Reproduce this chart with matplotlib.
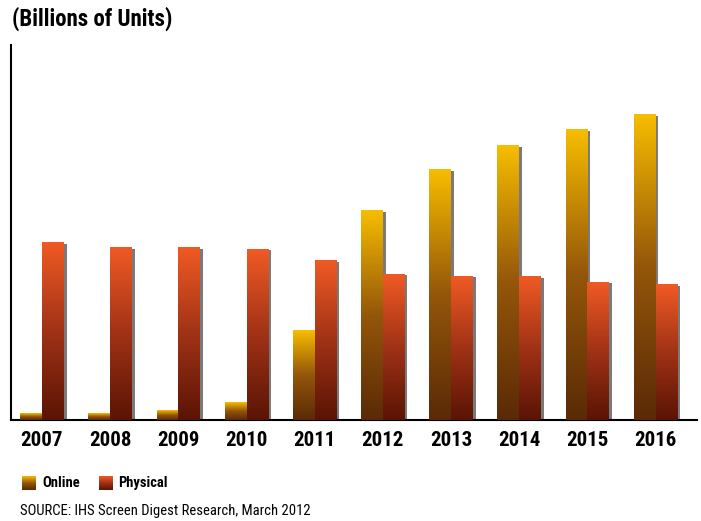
import numpy as np
import matplotlib
matplotlib.use("Agg")
from matplotlib import pyplot as plt
from matplotlib import font_manager
from matplotlib.colors import LinearSegmentedColormap
from matplotlib.patches import Rectangle

years = ["2007", "2008", "2009", "2010", "2011", "2012", "2013", "2014", "2015", "2016"]
online = [0.10, 0.11, 0.15, 0.28, 1.46, 3.40, 4.07, 4.46, 4.72, 4.96]
physical = [2.88, 2.80, 2.80, 2.78, 2.59, 2.37, 2.34, 2.33, 2.24, 2.20]

# look for a condensed face, the original uses a narrow grotesque
names = {f.name for f in font_manager.fontManager.ttflist}
narrow = [n for n in ["Liberation Sans Narrow", "DejaVu Sans Condensed", "Roboto Condensed",
                      "Open Sans Condensed", "Noto Sans Condensed"] if n in names]
stretch = "normal"
if not narrow:
    if any(f.name == "DejaVu Sans" and f.stretch == "condensed" for f in font_manager.fontManager.ttflist):
        stretch = "condensed"
plt.rcParams['font.family'] = narrow[:1] + ['DejaVu Sans']
plt.rcParams['font.stretch'] = stretch
shrink = 1.0 if (narrow or stretch == "condensed") else 0.82

cm_online = LinearSegmentedColormap.from_list("on", ["#5a2a06", "#94560a", "#f7bd00"])
cm_phys = LinearSegmentedColormap.from_list("ph", ["#5a1404", "#a03216", "#f05a24"])

fig = plt.figure(figsize=(7.01, 5.21), dpi=100)
ax = fig.add_axes([0.0157, 0.194, 0.978, 0.72])

x = np.arange(len(years))
w = 0.32
grad = np.linspace(0, 1, 256).reshape(-1, 1)


def draw(vals, offset, cmap):
    bars = ax.bar(x + offset, vals, w, color="none", edgecolor="none", zorder=3)
    for b in bars:
        bx, bw, bh = b.get_x(), b.get_width(), b.get_height()
        # soft shadow on right side
        ax.add_patch(Rectangle((bx + 0.04, 0), bw, bh - 0.02, color="#222222",
                               alpha=0.6, zorder=2, lw=0))
        ax.imshow(grad, extent=[bx, bx + bw, 0, bh], origin="lower",
                  aspect="auto", cmap=cmap, zorder=3)


draw(online, -w / 2, cm_online)
draw(physical, w / 2, cm_phys)

ax.set_xlim(-0.454, 9.60)
ax.set_ylim(0, 6.1)
ax.set_yticks([])
ax.set_xticks(x)
ax.set_xticklabels(years, fontsize=15 * shrink, fontweight="bold")
ax.tick_params(axis="x", length=0, pad=8)
for s in ["top", "right"]:
    ax.spines[s].set_visible(False)
for s in ["left", "bottom"]:
    ax.spines[s].set_linewidth(1.5)

fig.text(0.017, 0.963, "(Billions of Units)", fontsize=16.5 * shrink, fontweight="bold", va="center")

# legend, little gradient swatches
for px, cmap, label, tx in [(22, cm_online, "Online", 42), (99, cm_phys, "Physical", 118)]:
    sw = fig.add_axes([px / 701, 1 - 490 / 521, 14 / 701, 14 / 521])
    sw.imshow(grad, origin="lower", aspect="auto", cmap=cmap)
    sw.axis("off")
    fig.text(tx / 701, 1 - 483 / 521, label, fontsize=10.5 * shrink, fontweight="bold", va="center")

fig.text(20 / 701, 1 - 511 / 521, "SOURCE: IHS Screen Digest Research, March 2012",
         fontsize=10.5 * shrink, va="center")

fig.savefig("out.png", dpi=100)
